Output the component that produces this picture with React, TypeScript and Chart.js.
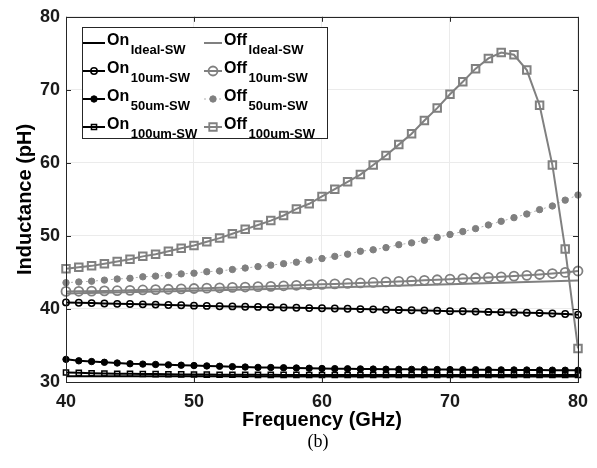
import React, { useEffect, useRef } from 'react';
import { Chart, registerables } from 'chart.js';

Chart.register(...registerables);

const FREQ = [40, 41, 42, 43, 44, 45, 46, 47, 48, 49, 50, 51, 52, 53, 54, 55, 56, 57, 58, 59, 60, 61, 62, 63, 64, 65, 66, 67, 68, 69, 70, 71, 72, 73, 74, 75, 76, 77, 78, 79, 80];
const IDEAL_FREQ = [40, 50, 60, 70, 80];

const ON_IDEAL = [30.8, 30.78, 30.76, 30.75, 30.74];
const OFF_IDEAL = [42.1, 42.5, 42.9, 43.4, 43.9];

const ON_10 = [40.9, 40.85, 40.8, 40.75, 40.7, 40.68, 40.63, 40.6, 40.55, 40.5, 40.45, 40.42, 40.38, 40.35, 40.3, 40.28, 40.24, 40.2, 40.16, 40.12, 40.1, 40.06, 40.02, 39.98, 39.95, 39.9, 39.86, 39.83, 39.8, 39.75, 39.7, 39.68, 39.64, 39.6, 39.56, 39.52, 39.48, 39.43, 39.38, 39.3, 39.2];
const ON_50 = [33.1, 32.9, 32.8, 32.7, 32.6, 32.5, 32.45, 32.4, 32.35, 32.3, 32.25, 32.2, 32.15, 32.1, 32.05, 32.0, 31.98, 31.95, 31.92, 31.88, 31.85, 31.83, 31.81, 31.79, 31.77, 31.75, 31.74, 31.73, 31.72, 31.71, 31.7, 31.69, 31.68, 31.67, 31.66, 31.65, 31.64, 31.63, 31.62, 31.61, 31.6];
const ON_100 = [31.3, 31.25, 31.2, 31.17, 31.14, 31.12, 31.1, 31.08, 31.06, 31.04, 31.02, 31.01, 31.0, 31.0, 30.99, 30.98, 30.98, 30.97, 30.97, 30.96, 30.96, 30.96, 30.96, 30.96, 30.95, 30.95, 30.95, 30.95, 30.95, 30.95, 30.95, 30.95, 30.95, 30.95, 30.95, 30.95, 30.95, 30.95, 30.95, 30.95, 30.95];
const OFF_10 = [42.4, 42.42, 42.44, 42.47, 42.5, 42.55, 42.6, 42.65, 42.7, 42.75, 42.8, 42.85, 42.9, 42.95, 43.0, 43.05, 43.1, 43.17, 43.24, 43.3, 43.37, 43.43, 43.5, 43.56, 43.63, 43.7, 43.77, 43.84, 43.92, 44.0, 44.08, 44.16, 44.24, 44.32, 44.4, 44.5, 44.6, 44.72, 44.85, 45.0, 45.2];
const OFF_50 = [43.6, 43.7, 43.8, 43.95, 44.1, 44.2, 44.4, 44.5, 44.6, 44.8, 44.9, 45.1, 45.2, 45.4, 45.6, 45.8, 46.0, 46.2, 46.4, 46.7, 46.9, 47.2, 47.5, 47.9, 48.1, 48.4, 48.8, 49.05, 49.4, 49.8, 50.2, 50.6, 51.0, 51.5, 52.0, 52.5, 53.0, 53.6, 54.1, 54.9, 55.6];
const OFF_100 = [45.5, 45.7, 45.9, 46.2, 46.5, 46.8, 47.2, 47.5, 47.9, 48.3, 48.7, 49.2, 49.7, 50.3, 50.9, 51.5, 52.1, 52.8, 53.7, 54.4, 55.4, 56.4, 57.4, 58.4, 59.7, 61.0, 62.5, 64.0, 65.8, 67.5, 69.4, 71.1, 72.9, 74.3, 75.1, 74.8, 72.7, 67.9, 59.7, 48.2, 34.6];

const X_TICKS = [40, 50, 60, 70, 80];
const Y_TICKS = [30, 40, 50, 60, 70, 80];

const LEGEND_ON = [
  { main: 'On', sub: 'Ideal-SW', marker: 'none', fill: false },
  { main: 'On', sub: '10um-SW', marker: 'circle', fill: false },
  { main: 'On', sub: '50um-SW', marker: 'circle', fill: true },
  { main: 'On', sub: '100um-SW', marker: 'rect', fill: false },
];
const LEGEND_OFF = [
  { main: 'Off', sub: 'Ideal-SW', marker: 'none', fill: false },
  { main: 'Off', sub: '10um-SW', marker: 'circle', fill: false },
  { main: 'Off', sub: '50um-SW', marker: 'circle', fill: true },
  { main: 'Off', sub: '100um-SW', marker: 'rect', fill: false },
];

const BLACK = '#000000';
const GRAY = '#808080';
const FONT = '"Liberation Sans", Arial, sans-serif';

function xy(xs: number[], ys: number[]) {
  return xs.map((x, i) => ({ x, y: ys[i] }));
}

function drawMarker(ctx: CanvasRenderingContext2D, kind: string, x: number, y: number, r: number, color: string, fill: boolean, lw: number) {
  if (kind === 'none') return;
  ctx.save();
  ctx.beginPath();
  if (kind === 'circle') {
    ctx.arc(x, y, r, 0, Math.PI * 2);
  } else {
    const s = Math.SQRT1_2 * r;
    ctx.rect(x - s, y - s, 2 * s, 2 * s);
  }
  ctx.lineWidth = lw;
  ctx.strokeStyle = color;
  if (fill) {
    ctx.fillStyle = color;
    ctx.fill();
  }
  ctx.stroke();
  ctx.restore();
}

export default function App() {
  const ref = useRef<HTMLCanvasElement>(null);

  useEffect(() => {
    const canvas = ref.current;
    if (!canvas) return;

    const framePlugin = {
      id: 'frame',
      afterDatasetsDraw(chart: any) {
        const { ctx, chartArea: a, scales } = chart;
        const xs = scales.x;
        const ys = scales.y;
        ctx.save();
        ctx.strokeStyle = '#262626';
        ctx.lineWidth = 1;
        ctx.strokeRect(Math.round(a.left) + 0.5, Math.round(a.top) + 0.5, Math.round(a.right - a.left), Math.round(a.bottom - a.top));
        ctx.beginPath();
        X_TICKS.forEach((v) => {
          const px = Math.round(xs.getPixelForValue(v)) + 0.5;
          ctx.moveTo(px, a.bottom);
          ctx.lineTo(px, a.bottom - 5);
          ctx.moveTo(px, a.top);
          ctx.lineTo(px, a.top + 5);
        });
        Y_TICKS.forEach((v) => {
          const py = Math.round(ys.getPixelForValue(v)) + 0.5;
          ctx.moveTo(a.left, py);
          ctx.lineTo(a.left + 5, py);
          ctx.moveTo(a.right, py);
          ctx.lineTo(a.right - 5, py);
        });
        ctx.stroke();
        ctx.restore();
      },
      afterDraw(chart: any) {
        const { ctx } = chart;
        ctx.save();
        // legend box
        const bx = 82, by = 27, bw = 245, bh = 111;
        ctx.fillStyle = '#ffffff';
        ctx.fillRect(bx, by, bw, bh);
        ctx.strokeStyle = '#262626';
        ctx.lineWidth = 1;
        ctx.strokeRect(bx + 0.5, by + 0.5, bw, bh);
        const rows = [43, 71, 99, 127];
        const drawCol = (items: any[], x0: number, x1: number, tx: number, color: string, isOff: boolean) => {
          items.forEach((it, i) => {
            const y = rows[i];
            const mx = (x0 + x1) / 2;
            ctx.save();
            ctx.beginPath();
            if (isOff && i === 2) {
              ctx.strokeStyle = '#b0b0b0';
              ctx.lineWidth = 1;
              ctx.setLineDash([2, 3]);
            } else {
              ctx.strokeStyle = color;
              ctx.lineWidth = 2;
            }
            ctx.moveTo(x0, y);
            ctx.lineTo(x1, y);
            ctx.stroke();
            ctx.restore();
            let r = 3;
            let lw = 1.5;
            if (isOff) {
              r = it.marker === 'rect' ? 5.3 : it.fill ? 3.2 : 4.5;
              lw = it.fill ? 1 : 1.8;
            } else {
              r = it.marker === 'rect' ? 3.6 : 3.2;
              lw = it.fill ? 1 : 1.5;
            }
            drawMarker(ctx, it.marker, mx, y, r, color, it.fill, lw);
            ctx.fillStyle = '#000000';
            ctx.textBaseline = 'alphabetic';
            ctx.textAlign = 'left';
            ctx.font = `bold 16px ${FONT}`;
            ctx.fillText(it.main, tx, y + 1.5);
            const w = ctx.measureText(it.main).width;
            ctx.font = `bold 13px ${FONT}`;
            ctx.fillText(it.sub, tx + w + 1.5, y + 10.5);
          });
        };
        drawCol(LEGEND_ON, 83, 105, 107, BLACK, false);
        drawCol(LEGEND_OFF, 204, 222, 224, GRAY, true);
        // figure caption
        ctx.fillStyle = '#000000';
        ctx.font = '18px "Liberation Serif", "Times New Roman", serif';
        ctx.textAlign = 'center';
        ctx.textBaseline = 'middle';
        ctx.fillText('(b)', 318, 442);
        ctx.restore();
      },
    };

    const chart = new Chart(canvas, {
      type: 'line',
      data: {
        datasets: [
          {
            label: 'Off 100um-SW', data: xy(FREQ, OFF_100), borderColor: GRAY, borderWidth: 2,
            pointStyle: 'rect', pointRadius: 5.3, pointBorderWidth: 2, pointBorderColor: GRAY,
            pointBackgroundColor: 'rgba(0,0,0,0)', clip: false,
          },
          {
            label: 'Off 50um-SW', data: xy(FREQ, OFF_50), borderColor: '#b0b0b0', borderWidth: 1, borderDash: [2, 3],
            pointStyle: 'circle', pointRadius: 3.2, pointBorderWidth: 1, pointBorderColor: GRAY,
            pointBackgroundColor: GRAY, clip: false,
          },
          {
            label: 'Off 10um-SW', data: xy(FREQ, OFF_10), borderColor: GRAY, borderWidth: 2,
            pointStyle: 'circle', pointRadius: 4.5, pointBorderWidth: 1.8, pointBorderColor: GRAY,
            pointBackgroundColor: 'rgba(0,0,0,0)', clip: false,
          },
          {
            label: 'Off Ideal-SW', data: xy(IDEAL_FREQ, OFF_IDEAL), borderColor: GRAY, borderWidth: 2,
            pointRadius: 0, clip: false,
          },
          {
            label: 'On 100um-SW', data: xy(FREQ, ON_100), borderColor: BLACK, borderWidth: 2,
            pointStyle: 'rect', pointRadius: 3.6, pointBorderWidth: 1.5, pointBorderColor: BLACK,
            pointBackgroundColor: 'rgba(0,0,0,0)', clip: false,
          },
          {
            label: 'On 50um-SW', data: xy(FREQ, ON_50), borderColor: BLACK, borderWidth: 2,
            pointStyle: 'circle', pointRadius: 3.2, pointBorderWidth: 1, pointBorderColor: BLACK,
            pointBackgroundColor: BLACK, clip: false,
          },
          {
            label: 'On 10um-SW', data: xy(FREQ, ON_10), borderColor: BLACK, borderWidth: 2,
            pointStyle: 'circle', pointRadius: 3.2, pointBorderWidth: 1.5, pointBorderColor: BLACK,
            pointBackgroundColor: 'rgba(0,0,0,0)', clip: false,
          },
          {
            label: 'On Ideal-SW', data: xy(IDEAL_FREQ, ON_IDEAL), borderColor: BLACK, borderWidth: 2,
            pointRadius: 0, clip: false,
          },
        ] as any,
      },
      options: {
        animation: false,
        responsive: false,
        devicePixelRatio: 1,
        layout: { padding: { left: 0, right: 17, top: 13, bottom: 0 } },
        plugins: { legend: { display: false }, tooltip: { enabled: false }, title: { display: false } },
        elements: { line: { tension: 0 } },
        scales: {
          x: {
            type: 'linear', min: 40, max: 80,
            afterBuildTicks: (s: any) => { s.ticks = X_TICKS.map((v) => ({ value: v })); },
            afterFit: (s: any) => { s.height = 86; },
            ticks: { color: '#1a1a1a', font: { family: FONT, size: 18, weight: 'bold' }, padding: 9, maxRotation: 0 },
            grid: { color: '#ebebeb', drawTicks: false, tickLength: 0 },
            border: { display: false },
            title: {
              display: true, text: 'Frequency (GHz)', color: '#000000',
              font: { family: FONT, size: 20, weight: 'bold' }, padding: { top: 0, bottom: 36 },
            },
          },
          y: {
            type: 'linear', min: 30, max: 80,
            afterBuildTicks: (s: any) => { s.ticks = Y_TICKS.map((v) => ({ value: v })); },
            afterFit: (s: any) => { s.width = 66; },
            ticks: { color: '#1a1a1a', font: { family: FONT, size: 18, weight: 'bold' }, padding: 6 },
            grid: { color: '#ebebeb', drawTicks: false, tickLength: 0 },
            border: { display: false },
            title: {
              display: true, text: 'Inductance (pH)', color: '#000000',
              font: { family: FONT, size: 20, weight: 'bold' }, padding: { top: 13, bottom: 0 },
            },
          },
        },
      } as any,
      plugins: [framePlugin],
    });

    return () => chart.destroy();
  }, []);

  return (
    <div style={{ position: 'fixed', left: 0, top: 0, width: 597, height: 468, background: '#ffffff' }}>
      <canvas ref={ref} width={597} height={468} style={{ display: 'block', width: 597, height: 468 }} />
    </div>
  );
}
